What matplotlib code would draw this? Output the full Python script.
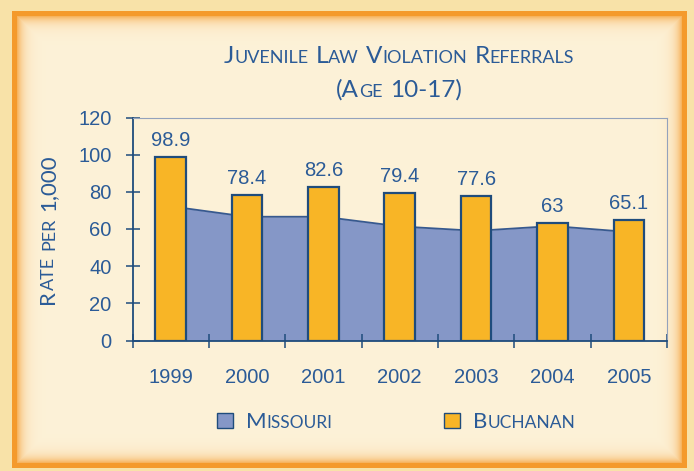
import re
import numpy as np
import matplotlib
matplotlib.use("Agg")
import matplotlib.pyplot as plt
from matplotlib.patches import Rectangle

years = ["1999", "2000", "2001", "2002", "2003", "2004", "2005"]
buchanan = [98.9, 78.4, 82.6, 79.4, 77.6, 63, 65.1]
missouri = [72.2, 66.6, 66.6, 61.4, 59.0, 61.6, 58.4]
y_ticks = [0, 20, 40, 60, 80, 100, 120]

W, H = 694, 471
TXT = "#2b5b97"
BAR = "#f8b526"
BAR_EDGE = "#1f4c7c"
AREA = "#8597c7"
AREA_EDGE = "#37598f"
CAPS_FONT = "Lato"
NUM_FONT = "Liberation Sans"

fig = plt.figure(figsize=(W / 100, H / 100), dpi=100)

# background frame: pale outside, orange border, glow fading into cream
yy, xx = np.mgrid[0:H, 0:W]
L, R, T, B = 12, 686, 11, 467
d = np.minimum.reduce([xx - L, R - xx, yy - T, B - yy]).astype(float)
outer = np.array([248, 226, 168]) / 255
orange = np.array([244, 154, 44]) / 255
cream = np.array([253, 242, 216]) / 255
glow = np.exp(-np.clip(d - 5, 0, None) / 6.0)[..., None] * 0.7
img = cream + (orange - cream) * glow
img = np.where((d < 5)[..., None], orange, img)
img = np.where((d < 0)[..., None], outer, img)
bg = fig.add_axes([0, 0, 1, 1], zorder=-10)
bg.imshow(img, aspect="auto", extent=[0, W, H, 0])
bg.set_axis_off()


def small_caps(x, y, s, big, small, rotation=0, ha="center"):
    """Fake small caps: lower-case runs drawn as smaller capitals.
    x, y in pixels from top-left, y is the baseline."""
    renderer = fig.canvas.get_renderer()
    tokens = re.findall(r"[a-z]+| |[^a-z ]+", s)
    pieces = []
    for tok in tokens:
        if tok == " ":
            pieces.append((None, big, big * 0.3 * 100 / 72))
            continue
        size = small if tok.islower() else big
        t = fig.text(0, 0, tok.upper(), size=size, family=CAPS_FONT)
        w = t.get_window_extent(renderer).width
        t.remove()
        pieces.append((tok.upper(), size, w))
    total = sum(p[2] for p in pieces)
    off = -total / 2 if ha == "center" else 0
    for txt, size, w in pieces:
        if txt is not None:
            if rotation == 90:
                px, py = x, H - y + off
            else:
                px, py = x + off, H - y
            fig.text(px / W, py / H, txt, size=size, family=CAPS_FONT, color=TXT,
                     rotation=rotation, rotation_mode="anchor",
                     ha="left", va="baseline")
        off += w


ax = fig.add_axes([132.5 / W, 1 - 340.5 / H, (667 - 132.5) / W, (340.5 - 117.5) / H])
ax.patch.set_alpha(0)

x = np.arange(len(years))
ax.fill_between(x, missouri, 0, color=AREA, lw=0, zorder=1)
ax.plot(x, missouri, color=AREA_EDGE, lw=1.3, zorder=1.5)
bars = ax.bar(x, buchanan, width=0.4, color=BAR, edgecolor=BAR_EDGE, lw=1.6, zorder=2)
ax.bar_label(bars, labels=[f"{v:g}" for v in buchanan], padding=5,
             fontsize=14.5, family=NUM_FONT, color=TXT)

ax.set_xlim(-0.5, len(years) - 0.5)
ax.set_ylim(0, 120)
ax.set_yticks(y_ticks)
ax.set_yticklabels([str(v) for v in y_ticks], family=NUM_FONT, fontsize=14.5, color=TXT)
ax.set_xticks(np.arange(-0.5, len(years), 1.0))
ax.set_xticklabels([])
ax.set_xticks(x, minor=True)
ax.set_xticklabels(years, minor=True, family=NUM_FONT, fontsize=14.5, color=TXT)
ax.tick_params(axis="both", which="major", direction="inout", length=10,
               width=1.1, color=BAR_EDGE)
ax.tick_params(axis="y", pad=10)
ax.tick_params(axis="x", which="minor", length=0, pad=20)

for side in ["left", "bottom"]:
    ax.spines[side].set_color(BAR_EDGE)
    ax.spines[side].set_linewidth(1.3)
for side in ["top", "right"]:
    ax.spines[side].set_color("#93a2bc")
    ax.spines[side].set_linewidth(0.8)

# title, axis label
small_caps(399, 63, "Juvenile Law Violation Referrals", 17.5, 13)
small_caps(399, 97, "(Age 10-17)", 17.5, 13)
small_caps(54, 229, "Rate per 1,000", 16, 13, rotation=90)

# legend
for (sx, label, col) in [(217, "Missouri", AREA), (444, "Buchanan", BAR)]:
    fig.patches.append(Rectangle((sx / W, 1 - 428 / H), 16 / W, 15 / H,
                                 transform=fig.transFigure, facecolor=col,
                                 edgecolor=BAR_EDGE, lw=1.0))
    small_caps(sx + 29, 428, label, 16, 12.5, ha="left")

fig.savefig("out.png", dpi=100)
